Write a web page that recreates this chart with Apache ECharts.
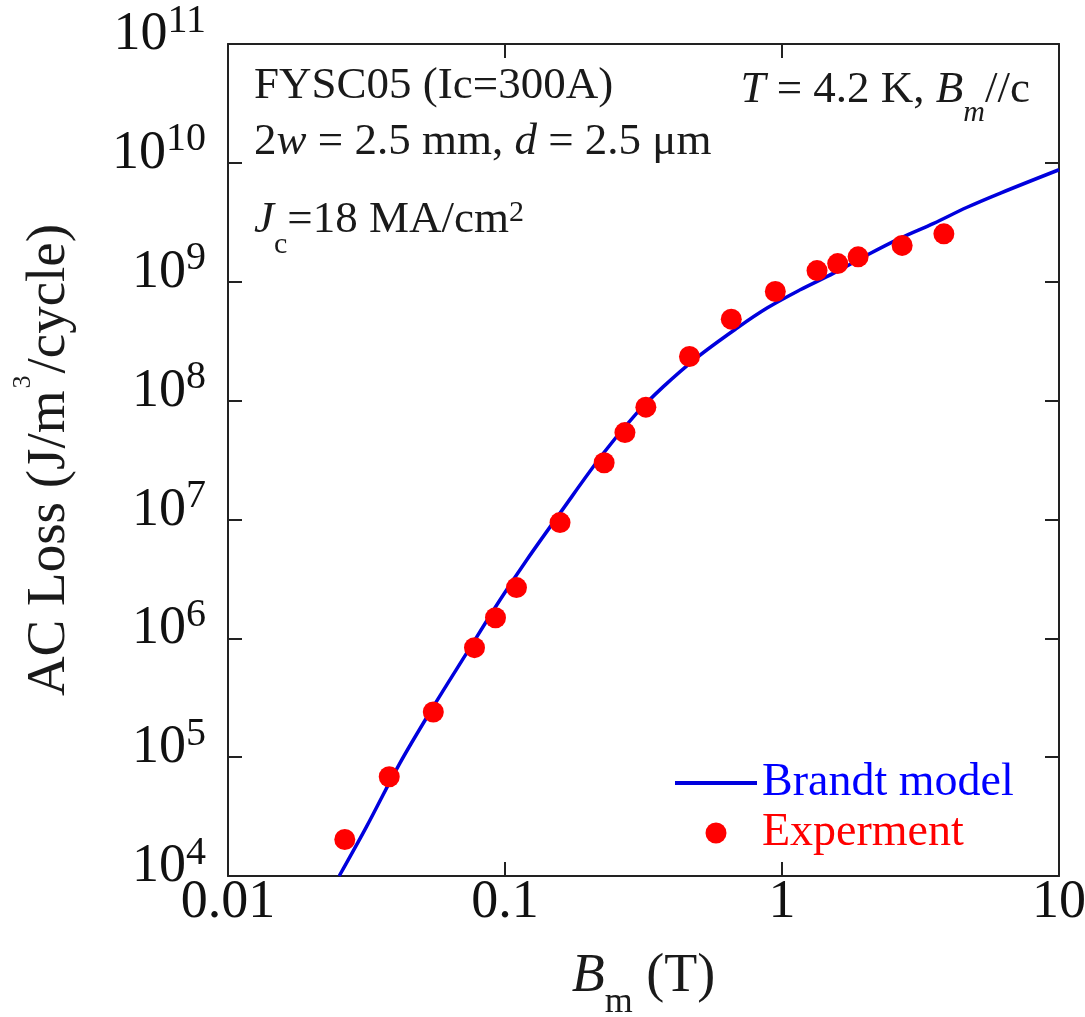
<!DOCTYPE html>
<html>
<head>
<meta charset="utf-8">
<script src="https://cdn.jsdelivr.net/npm/echarts@6/dist/echarts.min.js"></script>
<style>
  html, body { margin: 0; padding: 0; background: #ffffff; }
  #chart { width: 1085px; height: 1017px; }
</style>
</head>
<body>
<div id="chart"></div>
<script>
// Brandt model curve: applied field amplitude (T) and loss (J/m^3/cycle)
const modelB    = [0.0252, 0.0316, 0.0417, 0.0551, 0.0727, 0.0959, 0.1198, 0.158, 0.2266, 0.299, 0.373, 0.493, 0.688, 0.883, 1.164, 1.537, 2.03, 2.676, 3.53, 4.66, 6.15, 10];
const modelLoss = [1.0e4, 2.59e4, 8.87e4, 2.66e5, 7.5e5, 2.10e6, 4.56e6, 1.13e7, 3.6e7, 7.83e7, 1.31e8, 2.3e8, 4.07e8, 6.0e8, 8.55e8, 1.18e9, 1.68e9, 2.33e9, 3.1e9, 4.23e9, 5.57e9, 8.75e9];

// Measured points
const expB    = [0.0264, 0.0382, 0.0551, 0.0776, 0.0924, 0.110, 0.158, 0.228, 0.271, 0.3225, 0.4635, 0.656, 0.946, 1.338, 1.589, 1.883, 2.715, 3.84];
const expLoss = [2.03e4, 6.84e4, 2.40e5, 8.34e5, 1.49e6, 2.67e6, 9.4e6, 3.0e7, 5.38e7, 8.8e7, 2.35e8, 4.84e8, 8.27e8, 1.24e9, 1.42e9, 1.62e9, 2.02e9, 2.53e9];

// Tick labels
const xTickLabels = ['0.01', '0.1', '1', '10'];
const yTickPowers = ['4', '5', '6', '7', '8', '9', '10', '11'];

const seriesNames = ['Brandt model', 'Experment'];

const FONT = "'Liberation Serif', 'Times New Roman', serif";
const INK = '#1a1a1a';
const BLUE = '#0000dd';
const RED = '#ff0000';

const chart = echarts.init(document.getElementById('chart'), null, { renderer: 'canvas' });

const frameLine = { show: true, onZero: false, lineStyle: { color: '#222', width: 2 } };
const frameTick = { show: true, inside: true, length: 14, lineStyle: { color: '#222', width: 2 } };

// rich tokens for the annotation text; top padding pushes a token down inside its line
function tok(size, italic, padTop) {
  return { fontSize: size, fontFamily: FONT, fontStyle: italic ? 'italic' : 'normal',
           fill: INK, verticalAlign: 'top', padding: [padTop || 0, 0, 0, 0] };
}
const annoRich = {
  r: tok(45, false, 0),
  i: tok(45, true, 0),
  sub: tok(30, false, 32),
  subi: tok(30, true, 30),
  sup: tok(30, false, 0)
};

function annotation(text, x, y, align) {
  return {
    type: 'text', x: x, y: y, silent: true,
    style: { text: text, rich: annoRich, fill: INK, align: align, verticalAlign: 'top',
             fontSize: 45, fontFamily: FONT }
  };
}

const option = {
  animation: false,
  backgroundColor: '#ffffff',
  grid: { left: 228, right: 26, top: 44, bottom: 141, containLabel: false, outerBoundsMode: 'none' },
  xAxis: [
    {
      type: 'log', logBase: 10, min: 0.01, max: 10, position: 'bottom',
      axisLine: frameLine, axisTick: frameTick,
      minorTick: { show: false }, splitLine: { show: false },
      axisLabel: {
        margin: 0, fontSize: 54, lineHeight: 54, fontFamily: FONT, color: '#111',
        formatter: function (v) { return xTickLabels[Math.round(Math.log10(v)) + 2]; }
      },
      name: '{i|B}{sub|m}{r| (T)}', nameLocation: 'middle', nameGap: 74,
      nameTextStyle: {
        fontSize: 54, fontFamily: FONT, color: INK,
        rich: {
          i: { fontSize: 54, fontFamily: FONT, fontStyle: 'italic', color: INK, verticalAlign: 'top' },
          r: { fontSize: 54, fontFamily: FONT, color: INK, verticalAlign: 'top' },
          sub: { fontSize: 36, fontFamily: FONT, color: INK, verticalAlign: 'top', padding: [35, 0, 0, 0] }
        }
      }
    },
    {
      type: 'log', logBase: 10, min: 0.01, max: 10, position: 'top',
      axisLine: frameLine, axisTick: frameTick,
      minorTick: { show: false }, splitLine: { show: false },
      axisLabel: { show: false }
    }
  ],
  yAxis: [
    {
      type: 'log', logBase: 10, min: 1e4, max: 1e11, position: 'left',
      axisLine: frameLine, axisTick: frameTick,
      minorTick: { show: false }, splitLine: { show: false },
      axisLabel: {
        margin: 22, padding: [0, 0, 25, 0],
        formatter: function (v) {
          const p = yTickPowers[Math.round(Math.log10(v)) - 4];
          return '{b|10}{s|' + p + '}';
        },
        rich: {
          b: { fontSize: 54, fontFamily: FONT, color: '#111', verticalAlign: 'top', padding: [7, 0, 0, 0] },
          s: { fontSize: 40, fontFamily: FONT, color: '#111', verticalAlign: 'top' }
        }
      },
      name: '{r|AC Loss (J/m}{sup|3}{r|/cycle)}', nameLocation: 'middle', nameRotate: 90, nameGap: 151,
      nameTextStyle: {
        fontSize: 55, fontFamily: FONT, color: INK,
        rich: {
          r: { fontSize: 55, fontFamily: FONT, color: INK, verticalAlign: 'top', padding: [12, 0, 0, 0] },
          sup: { fontSize: 26, fontFamily: FONT, color: INK, verticalAlign: 'top', padding: [0, 2, 0, 2] }
        }
      }
    },
    {
      type: 'log', logBase: 10, min: 1e4, max: 1e11, position: 'right',
      axisLine: frameLine, axisTick: frameTick,
      minorTick: { show: false }, splitLine: { show: false },
      axisLabel: { show: false }
    }
  ],
  legend: {
    orient: 'vertical', left: 675, top: 760, padding: 0,
    itemWidth: 82, itemHeight: 21, itemGap: 4, selectedMode: false,
    textStyle: { fontSize: 46, lineHeight: 46, fontFamily: FONT },
    data: [
      { name: seriesNames[0], icon: 'path://M0,0H82V4H0Z', textStyle: { color: '#0000ff' } },
      { name: seriesNames[1], icon: 'circle', textStyle: { color: RED } }
    ]
  },
  graphic: [
    annotation('{r|FYSC05 (Ic=300A)}', 254, 64, 'left'),
    annotation('{r|2}{i|w}{r| = 2.5 mm, }{i|d}{r| = 2.5 μm}', 254, 120, 'left'),
    annotation('{i|J}{sub|c}{r|=18 MA/cm}{sup|2}', 254, 198, 'left'),
    annotation('{i|T}{r| = 4.2 K, }{i|B}{subi|m}{r|//c}', 1030, 68, 'right')
  ],
  series: [
    {
      name: seriesNames[0], type: 'line', xAxisIndex: 0, yAxisIndex: 0,
      data: modelB.map(function (b, i) { return [b, modelLoss[i]]; }),
      symbol: 'none', showSymbol: false, smooth: 0.35, clip: true,
      lineStyle: { color: BLUE, width: 3.5 }, itemStyle: { color: BLUE }, z: 2
    },
    {
      name: seriesNames[1], type: 'scatter', xAxisIndex: 0, yAxisIndex: 0,
      data: expB.map(function (b, i) { return [b, expLoss[i]]; }),
      symbol: 'circle', symbolSize: 21,
      itemStyle: { color: RED, opacity: 1 }, z: 3
    }
  ]
};

chart.setOption(option);
</script>
</body>
</html>
